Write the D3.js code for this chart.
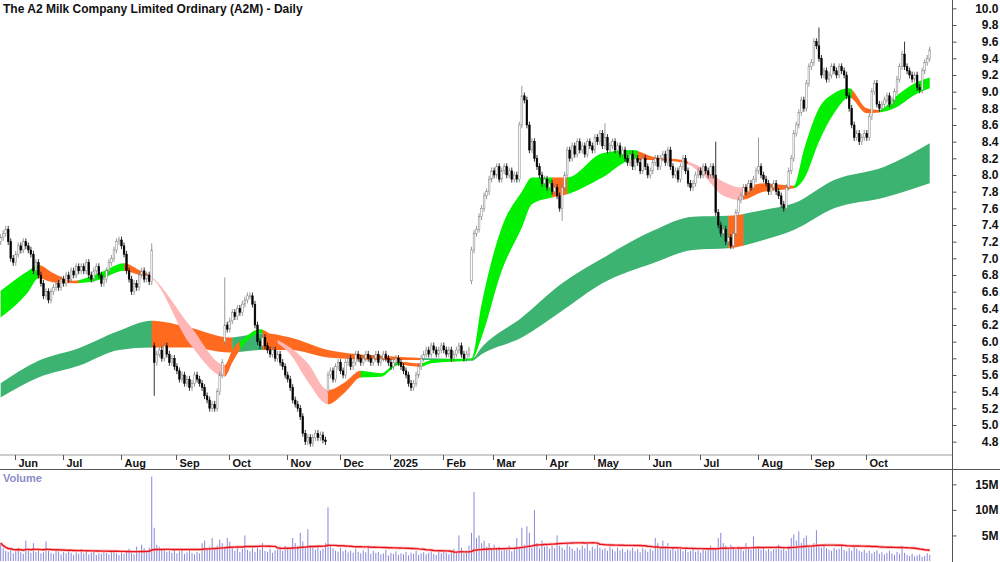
<!DOCTYPE html>
<html>
<head>
<meta charset="utf-8">
<script src="https://cdn.jsdelivr.net/npm/d3@7"></script>
<style>
  body { margin: 0; background: #fff; }
  svg { display: block; font-family: "Liberation Sans", Arial, sans-serif; }
</style>
</head>
<body>
<div id="chart"></div>
<script>
// daily closes, late May 2024 .. end Oct 2025
const closes = [
  7.25, 7.3, 7.35, 7.2, 7.0, 6.95, 7.05,
  7.15, 7.1, 7.2, 7.15, 7.1, 7.05, 6.85, 6.95, 6.8, 6.7, 6.55, 6.6, 6.5,
  6.6, 6.65, 6.7, 6.65, 6.75, 6.7, 6.8, 6.75, 6.85, 6.8, 6.9, 6.85,
  6.9, 6.85, 6.95, 6.8, 6.75, 6.85, 6.9, 6.8, 6.7, 6.75,
  6.85, 6.95, 7.0, 7.1, 7.2, 7.22, 7.15, 7.05,
  6.85, 6.75, 6.6, 6.7, 6.65, 6.8, 6.85, 6.75, 6.8, 6.72, 7.1,
  5.75, 5.85, 5.9, 5.8, 5.95, 5.85, 5.75, 5.8, 5.7,
  5.65, 5.55, 5.6, 5.5, 5.55, 5.45, 5.5, 5.6, 5.55, 5.5,
  5.45, 5.35, 5.3, 5.2, 5.25, 5.2, 5.4, 5.6, 5.75,
  6.2, 6.15, 6.25, 6.35, 6.3, 6.4, 6.35, 6.45, 6.5, 6.55,
  6.55, 6.45, 6.2, 6.0, 5.95, 6.05,
  5.95, 5.9, 5.85, 5.9, 5.8, 5.85, 5.75, 5.7,
  5.6, 5.55, 5.45, 5.3, 5.25, 5.2, 5.1, 4.9,
  4.8, 4.85, 4.78, 4.85, 4.9, 4.85, 4.88, 4.82, 4.8,
  5.6, 5.65, 5.55, 5.7, 5.75, 5.65, 5.6, 5.75, 5.8, 5.7, 5.75, 5.85, 5.8,
  5.75, 5.8, 5.85, 5.8, 5.75, 5.8, 5.85, 5.75, 5.8, 5.85, 5.8, 5.75, 5.7, 5.75, 5.8, 5.75,
  5.7, 5.65, 5.6, 5.5, 5.45, 5.5, 5.6, 5.7,
  5.8, 5.85, 5.9, 5.85, 5.95, 5.9, 5.85, 5.9, 5.95, 5.9, 5.85, 5.9, 5.8, 5.85, 5.9, 5.95, 5.85, 5.8, 5.85, 5.9,
  7.1, 7.3, 7.35, 7.5, 7.6, 7.75, 7.8,
  7.95, 8.05, 8.0, 8.1, 7.95, 8.05, 8.1, 8.0, 8.05, 7.95, 8.0, 7.95,
  8.6, 8.95, 8.9, 8.6, 8.3, 8.4, 8.2, 8.1,
  8.0, 7.9, 7.95, 7.85, 7.9, 7.8, 7.85, 7.75, 7.6,
  7.85, 8.0, 8.3, 8.2, 8.35, 8.25, 8.4,
  8.3, 8.35, 8.25, 8.4, 8.35, 8.3, 8.45, 8.4, 8.5, 8.35, 8.45, 8.3, 8.35, 8.4, 8.3, 8.35,
  8.25, 8.3, 8.2, 8.15, 8.25, 8.1, 8.2, 8.15, 8.05, 8.2, 8.1, 8.0, 8.05, 8.15, 8.2, 8.1,
  8.2, 8.25, 8.15, 8.3, 8.1, 8.0, 8.05, 7.95, 8.1, 8.2, 8.05, 7.9,
  7.85, 7.9, 8.0, 8.05, 8.0, 8.1, 8.05, 8.0, 8.1,
  8.0, 7.55, 7.4, 7.3, 7.35, 7.2, 7.25, 7.15, 7.3, 7.55,
  7.7, 7.75, 7.85, 7.8, 7.9, 7.85, 7.95, 8.05, 8.1,
  8.0, 7.95, 7.9, 7.8, 7.85, 7.9, 7.8, 7.75, 7.65, 7.6,
  7.85, 8.05, 8.2, 8.5, 8.6, 8.75, 8.9, 8.8, 9.1, 9.3, 9.35, 9.6, 9.55, 9.4,
  9.2, 9.25, 9.15, 9.2, 9.3, 9.25, 9.2, 9.3, 9.25, 9.2,
  8.95, 8.8, 8.6, 8.45, 8.5, 8.4, 8.45, 8.5, 8.45, 8.7,
  9.0, 9.1, 8.85, 8.8, 8.85, 8.9, 8.95, 8.85, 8.9, 9.0,
  9.15, 9.3, 9.45, 9.3, 9.25, 9.2, 9.15, 9.2, 9.05, 9.02,
  9.25, 9.35, 9.4, 9.5
];
// gaps: [bar, open]
const gapOpens = [[61, 5.95], [89, 6.0], [130, 5.4], [187, 6.73]];
const wickHighs = [[60, 7.18], [89, 6.77], [207, 9.07], [240, 8.62], [284, 8.4], [301, 8.45], [325, 9.77], [359, 9.6]];
const wickLows = [[61, 5.35], [223, 7.45], [130, 5.38]];

// volume, millions
const volumes = [
  3.5,2.5,2.0,1.8,2.2,1.5,1.9,2.6,1.7,1.4, 4.0,2.1,1.6,3.5,1.8,2.3,1.5,1.7,3.8,2.0,
  1.6,1.4,2.2,1.9,1.3,1.8,1.5,2.0,1.6,1.2, 1.7,1.4,2.3,1.5,1.8,1.3,1.6,1.9,1.2,1.5,
  1.4,2.0,1.6,1.3,1.8,2.1,1.5,1.2,1.7,1.4, 1.9,2.4,1.6,1.3,2.8,1.7,3.2,2.5,2.0,2.6,
  16.5,6.5,3.2,2.8,2.2,2.5,1.8,2.0,1.6,2.3, 1.5,1.9,2.2,1.4,1.7,2.0,1.6,1.3,1.8,1.5,
  3.5,4.0,2.2,2.8,4.5,2.5,3.0,4.2,3.5,2.8, 4.5,3.8,2.5,2.0,2.9,1.8,2.4,5.0,2.2,1.9,
  2.5,1.8,2.7,2.2,3.5,2.0,1.8,2.4,1.6,2.1, 2.3,2.8,2.0,3.0,2.6,2.2,4.5,3.5,3.0,5.5,
  3.8,2.5,6.2,3.0,2.6,2.2,2.8,2.0,2.4,3.5, 10.5,3.0,2.5,2.0,1.8,2.6,1.9,2.2,1.7,2.0,
  1.6,2.4,1.8,1.5,2.1,1.7,2.9,1.4,2.0,1.6, 1.8,1.3,1.5,2.2,1.1,1.6,1.4,1.9,1.2,1.5,
  1.3,1.8,1.1,1.6,1.4,2.0,1.2,1.5,1.7,1.3, 1.6,1.9,1.4,1.2,1.8,1.5,2.2,1.6,1.3,1.9,
  2.4,1.8,5.0,2.6,1.5,2.0,3.0,5.5,13.5,4.5, 5.0,3.5,4.0,2.8,3.5,2.5,3.2,2.4,2.8,2.0,
  2.6,2.2,3.0,1.9,2.4,4.5,2.8,6.5,3.2,6.8, 5.5,2.6,10.0,3.5,2.5,4.0,2.8,3.2,2.4,3.0,
  2.5,5.0,3.0,2.6,2.2,3.5,2.8,2.4,2.0,2.6, 2.2,3.0,2.5,3.5,2.0,2.8,2.4,3.2,2.6,2.2,
  2.5,2.0,2.8,2.3,1.9,2.6,2.1,2.4,1.8,2.2, 2.0,2.6,1.9,2.3,1.7,2.5,2.2,1.8,2.4,2.0,
  4.5,3.5,2.5,4.0,2.8,3.5,2.2,2.6,2.0,2.3, 2.4,1.9,2.2,1.7,2.0,2.5,1.8,2.1,1.6,2.2,
  2.0,2.5,3.0,2.6,2.2,4.5,5.5,3.5,3.0,2.5, 3.2,2.6,2.2,2.8,2.4,2.0,3.5,2.6,2.2,4.8,
  2.5,2.8,2.2,2.6,2.0,2.4,1.9,2.3,2.8,3.2, 2.2,2.5,2.0,3.0,4.5,5.2,4.0,5.8,3.5,4.5,
  5.0,3.0,2.8,3.5,6.0,3.2,2.6,3.0,2.5,2.2, 2.0,2.6,2.2,2.4,3.0,2.2,1.9,2.5,2.0,2.8,
  2.4,2.0,1.8,2.2,1.6,2.0,1.5,1.8,2.1,1.4, 1.7,1.3,1.6,2.0,1.5,1.2,1.8,1.4,3.0,1.6,
  1.2,1.0,1.4,0.9,1.1,1.3,0.8,1.0,1.5,1.2
];

// short-term band readings: bar, top, bottom
const shortBand = [
  [0,6.61,6.29],[11,6.85,6.6],[15,6.92,6.76],[21,6.82,6.71],[29,6.73,6.7],[39,6.82,6.74],
  [49,6.94,6.85],[55,6.86,6.8],[59,6.8,6.78],[75,6.2,5.98],[89,5.72,5.58],[92,5.9,5.75],
  [97,6.05,5.98],[103,6.15,6.1],[110,6.02,5.98],[115,5.93,5.85],[122,5.74,5.52],[130,5.42,5.25],
  [137,5.52,5.4],[143,5.65,5.57],[151,5.62,5.58],[158,5.76,5.72],[167,5.74,5.7],[171,5.78,5.74],
  [187,5.8,5.78],[191,6.45,6.05],[199,7.37,6.85],[207,7.8,7.37],[211,7.97,7.65],[219,7.97,7.73],
  [225,7.97,7.77],[239,8.26,7.97],[251,8.3,8.18],[259,8.22,8.18],[271,8.18,8.15],[279,8.08,8.0],
  [287,7.92,7.75],[294,7.85,7.7],[303,7.9,7.8],[315,7.87,7.84],[319,8.3,7.95],[325,8.8,8.4],
  [331,8.98,8.74],[337,9.04,8.93],[344,8.8,8.74],[349,8.78,8.75],[355,8.93,8.8],[363,9.1,8.96],
  [369,9.17,9.04]
];
const longBand = [
  [0,5.5,5.33],[15,5.77,5.57],[31,5.92,5.71],[47,6.13,5.9],[60,6.25,5.93],[75,6.17,5.93],
  [91,6.05,5.87],[104,6.1,5.9],[115,6.05,5.9],[130,5.9,5.81],[151,5.83,5.78],[171,5.8,5.78],
  [187,5.79,5.77],[191,5.93,5.85],[207,6.29,6.05],[223,6.7,6.37],[239,7.0,6.7],[259,7.33,6.94],
  [275,7.5,7.1],[289,7.51,7.12],[303,7.58,7.22],[315,7.66,7.34],[331,7.94,7.6],[351,8.1,7.73],
  [369,8.38,7.9]
];
// colour states: from bar, to bar, state
const shortStates = [
  [0,15,'up'],[15,31,'down'],[31,49,'up'],[49,59,'down'],[59,89,'weak'],[89,95,'down'],
  [95,104,'up'],[104,110,'down'],[110,130,'weak'],[130,143,'down'],[143,159,'up'],[159,167,'down'],
  [167,219,'up'],[219,225,'down'],[225,253,'up'],[253,273,'down'],[273,295,'weak'],[295,315,'down'],
  [315,338,'up'],[338,349,'down'],[349,369,'up']
];
const longStates = [
  [0,60,'up'],[60,92,'down'],[92,104,'up'],[104,167,'down'],[167,289,'up'],[289,295,'down'],[295,369,'up']
];

const monthNames = ['Jan','Feb','Mar','Apr','May','Jun','Jul','Aug','Sep','Oct','Nov','Dec'];
const holidays = ['2024-06-10','2024-12-25','2024-12-26','2025-01-01','2025-01-27','2025-04-18','2025-04-21','2025-04-25','2025-06-09'];

const W = 1000, H = 562, axisX = 952, priceBottom = 455;

// trading dates
const dates = [];
let d = new Date(Date.UTC(2024, 4, 24));
while (dates.length < closes.length) {
  const wd = d.getUTCDay();
  const iso = d.toISOString().slice(0, 10);
  if (wd !== 0 && wd !== 6 && !holidays.includes(iso)) dates.push(new Date(d));
  d = new Date(d.getTime() + 86400000);
}

const n = closes.length;
const step = 2.52;
const x = d3.scaleBand().domain(d3.range(n)).range([-1, -1 + n * step]).padding(0.32);
const xc = i => x(i) + x.bandwidth() / 2;
const y = d3.scaleLinear().domain([4.64, 10.1]).range([priceBottom, 0]);
const yv = d3.scaleLinear().domain([0, 17.8]).range([561, 470]);

const svg = d3.select('#chart').append('svg').attr('width', W).attr('height', H);

// bands
const colours = { up: '#00f000', down: '#ff6a1f', weak: '#ffb6b6' };
const longColours = { up: '#3cb371', down: '#ff6a1f' };
const defs = svg.append('defs');
function drawBand(samples, states, palette, name) {
  const area = d3.area()
    .x(s => xc(s[0])).y0(s => y(s[2])).y1(s => y(s[1]))
    .curve(d3.curveMonotoneX);
  const path = area(samples);
  states.forEach((st, k) => {
    const id = `${name}-clip-${k}`;
    const x0 = k === 0 ? -5 : xc(st[0]);
    const x1 = k === states.length - 1 ? xc(st[1]) + 1 : xc(st[1]);
    defs.append('clipPath').attr('id', id)
      .append('rect').attr('x', x0).attr('y', 0).attr('width', x1 - x0 + 0.5).attr('height', priceBottom);
    svg.append('path').attr('d', path).attr('fill', palette[st[2]]).attr('clip-path', `url(#${id})`);
  });
}
drawBand(longBand, longStates, longColours, 'long');
drawBand(shortBand, shortStates, colours, 'short');

// candles
const gapMap = new Map(gapOpens), hiMap = new Map(wickHighs), loMap = new Map(wickLows);
const bars = closes.map((c, i) => {
  const o = gapMap.has(i) ? gapMap.get(i) : (i === 0 ? c - 0.05 : closes[i - 1]);
  const hi = hiMap.has(i) ? hiMap.get(i) : Math.max(o, c) + 0.04;
  const lo = loMap.has(i) ? loMap.get(i) : Math.min(o, c) - 0.04;
  return { i, o, c, hi, lo, up: c >= o };
});
const cg = svg.append('g');
cg.selectAll('line.wick').data(bars).enter().append('line')
  .attr('x1', b => xc(b.i)).attr('x2', b => xc(b.i))
  .attr('y1', b => y(b.hi)).attr('y2', b => y(b.lo))
  .attr('stroke', b => b.up ? '#808080' : '#000').attr('stroke-width', 0.8);
cg.selectAll('rect.body').data(bars).enter().append('rect')
  .attr('x', b => x(b.i)).attr('width', x.bandwidth())
  .attr('y', b => y(Math.max(b.o, b.c)))
  .attr('height', b => Math.max(1, Math.abs(y(b.o) - y(b.c))))
  .attr('fill', b => b.up ? '#fff' : '#000')
  .attr('stroke', b => b.up ? '#808080' : '#000').attr('stroke-width', 0.5);

// frame lines
svg.append('line').attr('x1', 0).attr('x2', axisX).attr('y1', priceBottom).attr('y2', priceBottom).attr('stroke', '#999');
svg.append('line').attr('x1', 0).attr('x2', W).attr('y1', 469.5).attr('y2', 469.5).attr('stroke', '#555');
svg.append('line').attr('x1', axisX + 0.5).attr('x2', axisX + 0.5).attr('y1', 0).attr('y2', H).attr('stroke', '#555');

// price axis
const priceTicks = d3.range(4.8, 10.01, 0.2);
const ya = svg.append('g').attr('transform', `translate(${axisX + 0.5},0)`)
  .call(d3.axisRight(y).tickValues(priceTicks).tickFormat(d3.format('.1f')).tickSize(4).tickPadding(0));
ya.select('.domain').remove();
ya.selectAll('line').attr('stroke', '#555');
ya.selectAll('text').attr('x', 46).attr('text-anchor', 'end').attr('dy', '0.32em')
  .attr('font-size', 12).attr('font-weight', 'bold').attr('fill', '#111')
  .attr('font-family', '"Liberation Sans", Arial, sans-serif');

// month axis
const monthStarts = [];
dates.forEach((dt, i) => {
  if (i > 0 && dt.getUTCMonth() !== dates[i - 1].getUTCMonth() && i < n - 5) monthStarts.push(i);
});
const mg = svg.append('g');
monthStarts.forEach(i => {
  const px = Math.round(x(i)) + 0.5;
  const dt = dates[i];
  const label = dt.getUTCMonth() === 0 ? String(dt.getUTCFullYear()) : monthNames[dt.getUTCMonth()];
  mg.append('line').attr('x1', px).attr('x2', px).attr('y1', priceBottom).attr('y2', priceBottom + 5).attr('stroke', '#555');
  mg.append('text').attr('x', px + 3).attr('y', 467).attr('font-size', 11).attr('font-weight', 'bold')
    .attr('fill', '#111').text(label);
});

// title
svg.append('text').attr('x', 3).attr('y', 13).attr('font-size', 12).attr('font-weight', 'bold')
  .attr('fill', '#111').text('The A2 Milk Company Limited Ordinary (A2M) - Daily');

// volume
svg.append('g').selectAll('line').data(volumes).enter().append('line')
  .attr('x1', (v, i) => xc(i)).attr('x2', (v, i) => xc(i))
  .attr('y1', yv(0)).attr('y2', v => yv(v))
  .attr('stroke', '#7b7bd6').attr('stroke-width', 0.9);
const volAvg = volumes.map((v, i) => d3.mean(volumes.slice(Math.max(0, i - 49), i + 1)));
svg.append('path').datum(volAvg)
  .attr('d', d3.line().x((v, i) => xc(i)).y(v => yv(v)))
  .attr('fill', 'none').attr('stroke', '#ff9a9a').attr('stroke-width', 3).attr('opacity', 0.6);
svg.append('path').datum(volAvg)
  .attr('d', d3.line().x((v, i) => xc(i)).y(v => yv(v)))
  .attr('fill', 'none').attr('stroke', '#e8141b').attr('stroke-width', 1.4);
svg.append('text').attr('x', 3).attr('y', 482).attr('font-size', 11).attr('font-weight', 'bold')
  .attr('fill', '#8c8cc8').text('Volume');
const va = svg.append('g').attr('transform', `translate(${axisX + 0.5},0)`)
  .call(d3.axisRight(yv).tickValues([5, 10, 15]).tickFormat(v => v + 'M').tickSize(4).tickPadding(0));
va.select('.domain').remove();
va.selectAll('line').attr('stroke', '#555');
va.selectAll('text').attr('x', 46).attr('text-anchor', 'end').attr('dy', '0.32em')
  .attr('font-size', 12).attr('font-weight', 'bold').attr('fill', '#111')
  .attr('font-family', '"Liberation Sans", Arial, sans-serif');
</script>
</body>
</html>
